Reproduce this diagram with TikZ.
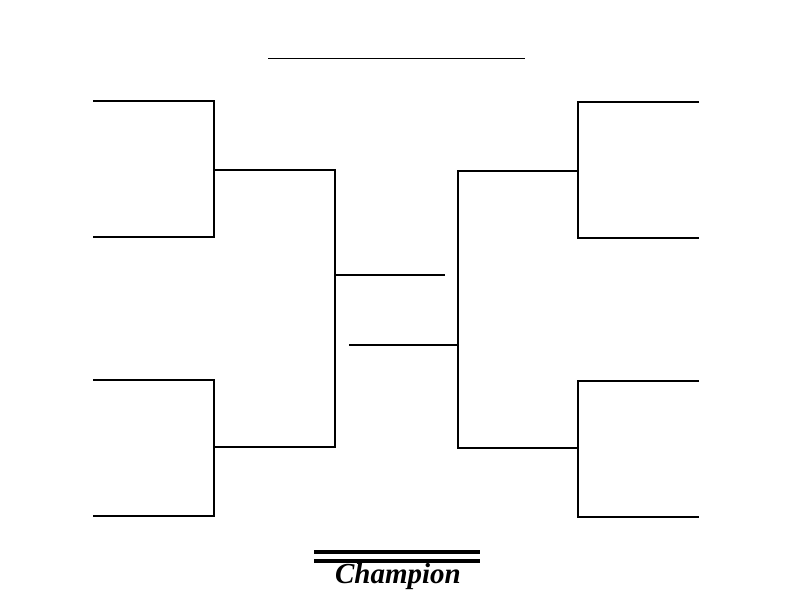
\documentclass[tikz,border=0pt]{standalone}
\usepackage{fontspec}
\setmainfont{Liberation Serif}
\begin{document}
\begin{tikzpicture}[x=1pt,y=-1pt,br/.style={line width=1.8pt,black},thin line/.style={line width=0.8pt,black},champ/.style={line width=3.2pt}]
\useasboundingbox[fill=white] (0,0) rectangle (794,613);
% title line
\coordinate (t1) at (268,58); \coordinate (t2) at (525,58);
\draw[thin line] (t1) -- (t2);
% left
\coordinate (la1) at (93,101); \coordinate (la2) at (93,237);
\coordinate (lb1) at (93,380); \coordinate (lb2) at (93,516);
\coordinate (lam) at (214,170); \coordinate (lbm) at (214,447);
\coordinate (lc) at (335,170); \coordinate (ld) at (335,447);
\coordinate (lf) at (335,275); \coordinate (lfe) at (445,275);
\draw[br] (la1) -| (lam) |- (la2);
\draw[br] (lb1) -| (lbm) |- (lb2);
\draw[br] (lam) -- (lc) -- (ld) -- (lbm);
\draw[br] (lf) -- (lfe);
% right
\coordinate (ra1) at (699,102); \coordinate (ra2) at (699,238);
\coordinate (rb1) at (699,381); \coordinate (rb2) at (699,517);
\coordinate (ram) at (578,171); \coordinate (rbm) at (578,448);
\coordinate (rc) at (458,171); \coordinate (rd) at (458,448);
\coordinate (rf) at (458,345); \coordinate (rfe) at (349,345);
\draw[br] (ra1) -| (ram) |- (ra2);
\draw[br] (rb1) -| (rbm) |- (rb2);
\draw[br] (ram) -- (rc) -- (rd) -- (rbm);
\draw[br] (rf) -- (rfe);
% champion
\coordinate (c1) at (314,552); \coordinate (c2) at (480,552);
\coordinate (c3) at (314,561); \coordinate (c4) at (480,561);
\draw[champ] (c1) -- (c2);
\draw[champ] (c3) -- (c4);
\node[font=\bfseries\itshape\fontsize{29}{32}\selectfont, inner sep=0pt] (champ) at (398,577) {Champion};
\end{tikzpicture}
\end{document}
